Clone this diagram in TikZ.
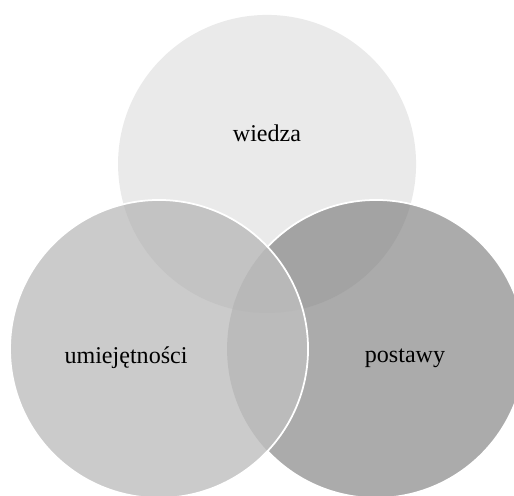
\documentclass[tikz,border=0pt]{standalone}
\usepackage{fontspec}
\setmainfont{Liberation Serif}
\usetikzlibrary{positioning}
\definecolor{kolA}{HTML}{EAEAEA}
\definecolor{kolB}{HTML}{CBCBCB}
\definecolor{kolC}{HTML}{ABABAB}
\definecolor{kolAB}{HTML}{C3C3C3}
\definecolor{kolAC}{HTML}{A3A3A3}
\definecolor{kolBC}{HTML}{BBBBBB}
\definecolor{kolABC}{HTML}{B8B8B8}
\tikzset{
	etykieta/.style={font=\fontsize{13.7}{16}\selectfont, text=black, inner sep=0pt},
	brzeg/.style={draw=white, line width=1pt}
}
\begin{document}
\begin{tikzpicture}[scale=0.02]
			\useasboundingbox (0,0) rectangle (514,495);
			\coordinate (W) at (267,331);
			\coordinate (U) at (159,146);
			\coordinate (P) at (376,146);
			% wiedza
			\fill[kolA] (W) circle (149);
			% postawy
			\fill[kolC] (P) circle (149);
			\begin{scope}
				\clip (P) circle (149);
				\fill[kolAC] (W) circle (149);
			\end{scope}
			\draw[brzeg] (P) circle (149);
			% umiejetnosci
			\fill[kolB] (U) circle (149);
			\begin{scope}
				\clip (U) circle (149);
				\fill[kolAB] (W) circle (149);
				\fill[kolBC] (P) circle (149);
				\clip (P) circle (149);
				\fill[kolABC] (W) circle (149);
			\end{scope}
			\draw[brzeg] (U) circle (149);
			\draw (267,362) node[etykieta] (wiedza) {wiedza};
			\draw (126,137) node[etykieta] (umiejetnosci) {umiejętności};
			\draw (405,137) node[etykieta] (postawy) {postawy};
		\end{tikzpicture}
\end{document}
